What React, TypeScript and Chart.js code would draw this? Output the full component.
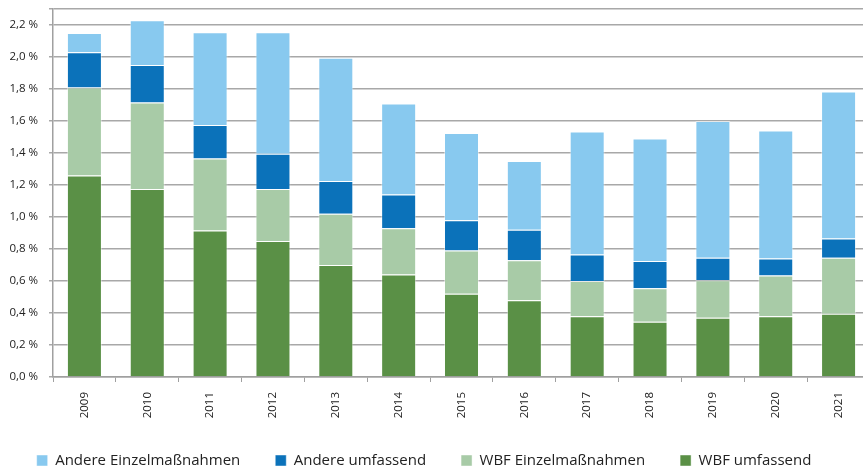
import React, { useEffect, useRef } from 'react';
import { Chart, registerables } from 'chart.js';

Chart.register(...registerables);

const years = ['2009', '2010', '2011', '2012', '2013', '2014', '2015', '2016', '2017', '2018', '2019', '2020', '2021'];
const wbfUmfassend = [1.26, 1.175, 0.915, 0.85, 0.7, 0.64, 0.52, 0.48, 0.38, 0.345, 0.37, 0.38, 0.395];
const wbfEinzel = [0.55, 0.54, 0.45, 0.325, 0.32, 0.29, 0.27, 0.25, 0.22, 0.21, 0.235, 0.255, 0.35];
const andereUmfassend = [0.22, 0.235, 0.21, 0.22, 0.205, 0.21, 0.19, 0.19, 0.165, 0.17, 0.14, 0.105, 0.12];
const andereEinzel = [0.12, 0.28, 0.58, 0.76, 0.77, 0.57, 0.545, 0.43, 0.77, 0.765, 0.855, 0.8, 0.92];

const yTickValues = [0, 0.2, 0.4, 0.6, 0.8, 1.0, 1.2, 1.4, 1.6, 1.8, 2.0, 2.2, 2.3];
const yTickLabels = ['0,0 %', '0,2 %', '0,4 %', '0,6 %', '0,8 %', '1,0 %', '1,2 %', '1,4 %', '1,6 %', '1,8 %', '2,0 %', '2,2 %', ''];

const FONT = "'Open Sans', 'DejaVu Sans', sans-serif";

export default function App() {
  const ref = useRef<HTMLCanvasElement | null>(null);

  useEffect(() => {
    if (!ref.current) return;
    const border = 'rgba(255,255,255,0.45)';
    const chart = new Chart(ref.current, {
      type: 'bar',
      data: {
        labels: years,
        datasets: [
          { label: 'WBF umfassend', data: wbfUmfassend, backgroundColor: '#5a9046', borderColor: border, borderWidth: 1 },
          { label: 'WBF Einzelmaßnahmen', data: wbfEinzel, backgroundColor: '#a8cba7', borderColor: border, borderWidth: 1 },
          { label: 'Andere umfassend', data: andereUmfassend, backgroundColor: '#0b72ba', borderColor: border, borderWidth: 1 },
          { label: 'Andere Einzelmaßnahmen', data: andereEinzel, backgroundColor: '#88c9ef', borderColor: border, borderWidth: 1 },
        ],
      },
      options: {
        responsive: false,
        animation: false,
        devicePixelRatio: 1,
        layout: { padding: { top: 9, left: 0, right: 0, bottom: 0 } },
        datasets: { bar: { barPercentage: 0.557, categoryPercentage: 1 } },
        plugins: {
          tooltip: { enabled: false },
          legend: {
            position: 'bottom',
            reverse: true,
            maxHeight: 50,
            labels: {
              boxWidth: 11,
              boxHeight: 11,
              padding: 35,
              color: '#222222',
              font: { family: FONT, size: 15 },
            },
          },
        },
        scales: {
          x: {
            stacked: true,
            grid: { display: true, drawOnChartArea: false, offset: true, tickLength: 5, color: '#a0a0a0' },
            border: { display: true, color: '#a0a0a0', width: 1.5 },
            ticks: {
              minRotation: 90,
              maxRotation: 90,
              padding: 10,
              color: '#222222',
              font: { family: FONT, size: 11.5 },
            },
            afterFit: (s: any) => { s.height = 41; },
          },
          y: {
            stacked: true,
            min: 0,
            max: 2.3,
            grid: { color: '#a8a8a8', lineWidth: 1.5, tickLength: 4 },
            border: { display: true, color: '#a0a0a0', width: 1.5 },
            ticks: {
              padding: 11,
              color: '#222222',
              font: { family: FONT, size: 11.5 },
              callback: (v: any) => {
                const i = yTickValues.findIndex((t) => Math.abs(t - Number(v)) < 1e-6);
                return i >= 0 ? yTickLabels[i] : '';
              },
            },
            afterBuildTicks: (s: any) => {
              s.ticks = yTickValues.map((v) => ({ value: v }));
            },
            afterFit: (s: any) => { s.width = 75; s.paddingTop = 0; },
          },
        },
      },
    });
    return () => chart.destroy();
  }, []);

  return (
    <div style={{ position: 'absolute', left: 0, top: 0, width: 863, height: 468, overflow: 'hidden', background: '#ffffff' }}>
      <canvas
        ref={ref}
        width={892}
        height={468}
        style={{ position: 'absolute', left: -22, top: 0, width: 892, height: 468 }}
      />
    </div>
  );
}
